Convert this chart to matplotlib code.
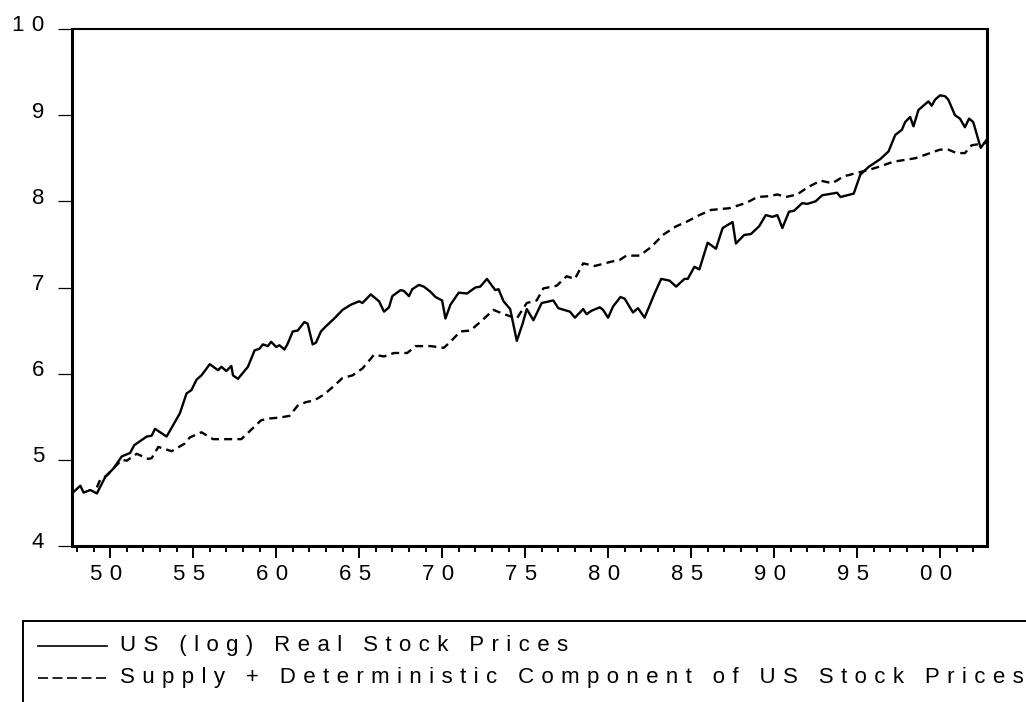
import numpy as np
import matplotlib
matplotlib.use('Agg')
import matplotlib.pyplot as plt
from matplotlib.lines import Line2D
from matplotlib.patches import Rectangle
from matplotlib.transforms import ScaledTranslation

plt.rcParams['font.family'] = ['Liberation Sans', 'DejaVu Sans']

# US (log) real stock prices (decimal years)
real_years = [1947.7, 1948.2, 1948.4, 1948.8, 1949.2, 1949.7, 1950.2, 1950.7, 1951.2, 1951.45,
              1952.2, 1952.5, 1952.7, 1953.4, 1954.2, 1954.6, 1954.9, 1955.2, 1955.5, 1956.0,
              1956.5, 1956.7, 1957.0, 1957.3, 1957.4, 1957.7, 1958.3, 1958.7, 1959.0, 1959.2,
              1959.5, 1959.7, 1960.0, 1960.2, 1960.5, 1960.7, 1961.0, 1961.3, 1961.7, 1961.9,
              1962.2, 1962.4, 1962.7, 1963.0, 1963.5, 1964.0, 1964.5, 1965.0, 1965.2, 1965.7,
              1966.2, 1966.5, 1966.8, 1967.0, 1967.5, 1967.7, 1968.0, 1968.2, 1968.6, 1968.9,
              1969.3, 1969.6, 1970.0, 1970.2, 1970.5, 1971.0, 1971.5, 1972.0, 1972.3, 1972.7,
              1973.2, 1973.4, 1973.7, 1974.1, 1974.5, 1974.85, 1975.1, 1975.5, 1976.0, 1976.7,
              1977.0, 1977.7, 1978.0, 1978.5, 1978.7, 1979.0, 1979.5, 1979.7, 1980.0, 1980.3,
              1980.75, 1981.0, 1981.5, 1981.8, 1982.2, 1982.8, 1983.2, 1983.7, 1984.1, 1984.6,
              1984.8, 1985.2, 1985.5, 1986.0, 1986.5, 1986.9, 1987.5, 1987.7, 1988.2, 1988.6,
              1989.1, 1989.5, 1989.9, 1990.2, 1990.5, 1990.9, 1991.2, 1991.7, 1992.0, 1992.5,
              1992.9, 1993.8, 1994.0, 1994.4, 1994.8, 1995.2, 1995.7, 1996.4, 1996.9, 1997.3,
              1997.7, 1997.9, 1998.2, 1998.4, 1998.7, 1999.0, 1999.3, 1999.5, 1999.7, 2000.0,
              2000.3, 2000.5, 2000.9, 2001.2, 2001.5, 2001.75, 2002.0, 2002.45, 2002.83]
real_vals = [4.61, 4.70, 4.62, 4.65, 4.61, 4.80, 4.90, 5.04, 5.08, 5.17,
             5.27, 5.28, 5.36, 5.27, 5.54, 5.77, 5.81, 5.93, 5.98, 6.11,
             6.04, 6.08, 6.03, 6.09, 5.98, 5.94, 6.08, 6.27, 6.29, 6.34,
             6.32, 6.37, 6.31, 6.33, 6.28, 6.35, 6.49, 6.50, 6.60, 6.58,
             6.34, 6.36, 6.49, 6.55, 6.64, 6.74, 6.80, 6.84, 6.82, 6.92,
             6.84, 6.72, 6.77, 6.90, 6.97, 6.96, 6.90, 6.98, 7.03, 7.01,
             6.95, 6.89, 6.85, 6.64, 6.80, 6.94, 6.93, 7.00, 7.01, 7.10,
             6.97, 6.98, 6.84, 6.75, 6.38, 6.58, 6.75, 6.62, 6.82, 6.85,
             6.76, 6.72, 6.65, 6.75, 6.69, 6.73, 6.77, 6.74, 6.65, 6.78,
             6.89, 6.87, 6.71, 6.76, 6.65, 6.93, 7.10, 7.08, 7.01, 7.10,
             7.10, 7.24, 7.21, 7.52, 7.45, 7.69, 7.76, 7.51, 7.61, 7.62,
             7.71, 7.84, 7.82, 7.84, 7.69, 7.88, 7.89, 7.98, 7.97, 8.00,
             8.07, 8.10, 8.05, 8.07, 8.09, 8.31, 8.40, 8.49, 8.58, 8.77,
             8.83, 8.92, 8.98, 8.87, 9.06, 9.11, 9.16, 9.11, 9.18, 9.23,
             9.22, 9.18, 9.00, 8.96, 8.86, 8.96, 8.92, 8.62, 8.72]

# supply + deterministic component
supply_years = [1949.2, 1949.4, 1949.8, 1950.3, 1950.7, 1951.0, 1951.6, 1952.3, 1952.5, 1952.9,
                1953.7, 1954.5, 1954.8, 1955.5, 1956.2, 1957.2, 1957.9, 1958.5, 1959.1, 1959.6,
                1960.2, 1960.8, 1961.3, 1961.8, 1962.3, 1962.9, 1963.5, 1964.0, 1964.6, 1965.2,
                1965.9, 1966.5, 1967.1, 1967.9, 1968.4, 1969.3, 1970.1, 1970.5, 1971.1, 1971.7,
                1972.3, 1973.1, 1973.6, 1974.2, 1974.5, 1975.1, 1975.7, 1976.1, 1976.9, 1977.5,
                1978.0, 1978.5, 1979.2, 1980.2, 1980.7, 1981.1, 1981.9, 1982.6, 1983.3, 1984.1,
                1984.7, 1985.5, 1986.2, 1987.3, 1988.3, 1989.0, 1989.7, 1990.2, 1990.7, 1991.4,
                1992.0, 1992.8, 1993.5, 1994.2, 1995.0, 1995.8, 1996.3, 1997.2, 1998.5, 1999.4,
                2000.0, 2000.5, 2001.0, 2001.5, 2001.9, 2002.5, 2002.83]
supply_vals = [4.68, 4.77, 4.82, 4.92, 5.00, 4.99, 5.07, 5.01, 5.02, 5.15,
               5.10, 5.19, 5.26, 5.32, 5.24, 5.24, 5.24, 5.35, 5.46, 5.48,
               5.49, 5.51, 5.63, 5.67, 5.69, 5.76, 5.86, 5.95, 5.98, 6.06,
               6.22, 6.20, 6.24, 6.24, 6.32, 6.32, 6.30, 6.37, 6.49, 6.50,
               6.60, 6.74, 6.70, 6.66, 6.64, 6.82, 6.85, 6.99, 7.02, 7.13,
               7.10, 7.28, 7.25, 7.30, 7.32, 7.37, 7.37, 7.47, 7.61, 7.71,
               7.76, 7.84, 7.90, 7.92, 7.98, 8.05, 8.06, 8.08, 8.05, 8.08,
               8.16, 8.24, 8.21, 8.29, 8.33, 8.37, 8.40, 8.46, 8.50, 8.56,
               8.60, 8.60, 8.56, 8.56, 8.65, 8.67, 8.68]

major_years = list(range(1950, 2001, 5))
major_labels = ['50', '55', '60', '65', '70', '75', '80', '85', '90', '95', '00']
minor_years = list(range(1948, 2003))
y_ticks = [4, 5, 6, 7, 8, 9, 10]

labels = ['US (log) Real Stock Prices',
          'Supply + Deterministic Component of US Stock Prices']


def spaced(s):
    # eviews style wide letter spacing (three-per-em space)
    return '\u2004'.join(s)


W, H = 1026, 702
fig = plt.figure(figsize=(W / 100, H / 100), dpi=100)
ax = fig.add_axes([72 / W, (H - 546) / H, (987 - 72) / W, (546 - 29) / H])

ax.plot(real_years, real_vals, color='k', lw=1.7)
ax.plot(supply_years, supply_vals, color='k', lw=1.7, dashes=(3.4, 2.2))

ax.set_xlim(real_years[0], real_years[-1])
ax.set_ylim(4, 10)

ax.set_xticks(major_years)
ax.set_xticklabels([spaced(l) for l in major_labels])
ax.set_xticks(minor_years, minor=True)
ax.set_yticks(y_ticks)
ax.set_yticklabels([spaced(str(v)) for v in y_ticks])

ax.tick_params(axis='x', which='major', direction='out', length=8.5, width=1.4, pad=4.5, labelsize=16)
ax.tick_params(axis='x', which='minor', direction='out', length=4.3, width=1.4)
ax.tick_params(axis='y', direction='out', length=10, width=0.9, pad=10, labelsize=16)

for lab in ax.get_xticklabels():
    lab.set_transform(lab.get_transform() + ScaledTranslation(-3 / 72, 0, fig.dpi_scale_trans))
for lab in ax.get_yticklabels():
    lab.set_transform(lab.get_transform() + ScaledTranslation(0, 4 / 72, fig.dpi_scale_trans))

for side in ['left', 'bottom', 'right']:
    ax.spines[side].set_linewidth(2.2)
ax.spines['top'].set_linewidth(1.5)

# legend box running off the page like the eviews export
fig.patches.append(Rectangle((23 / W, -0.1), 1.2, (H - 621) / H + 0.1, transform=fig.transFigure,
                             fill=False, edgecolor='k', lw=1.4))
rows = [646, 678]
styles = ['-', (0, (6, 2.7))]
for r, ls, lab in zip(rows, styles, labels):
    yy = (H - r) / H
    fig.lines.append(Line2D([38 / W, 107 / W], [yy, yy], transform=fig.transFigure,
                            color='k', lw=1.2, linestyle=ls))
    fig.text(120 / W, yy, spaced(lab), fontsize=16, va='center', ha='left')

fig.savefig('out.png', dpi=100)
